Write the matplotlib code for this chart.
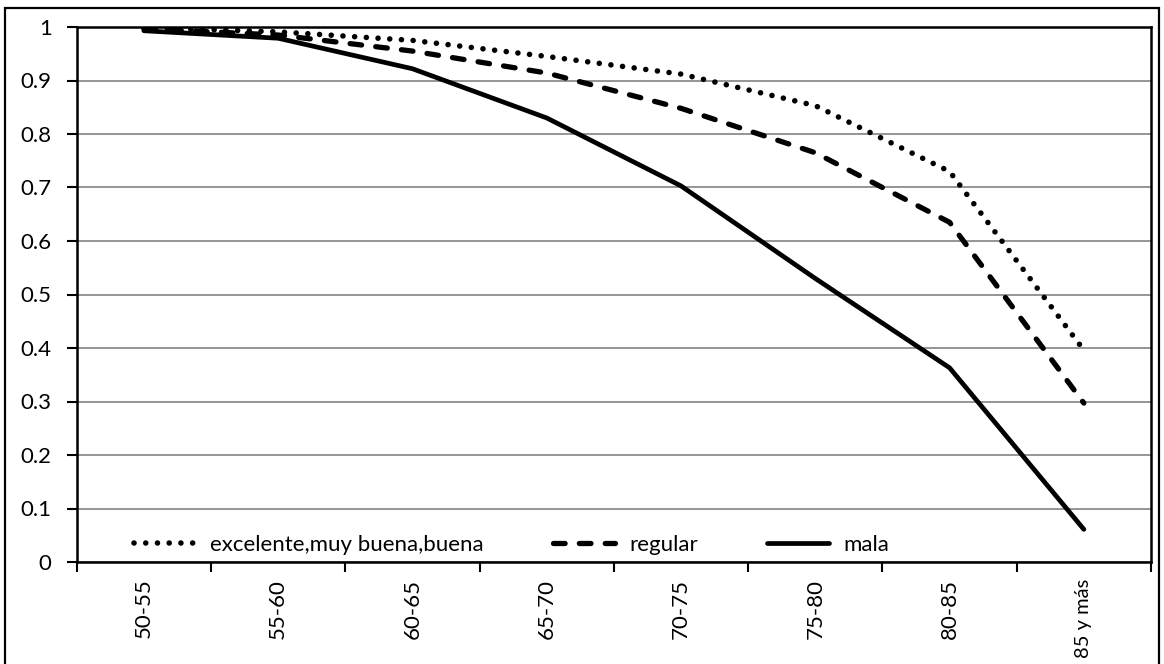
import matplotlib
matplotlib.use("Agg")
import matplotlib.pyplot as plt
from matplotlib.patches import Rectangle
import numpy as np

plt.rcParams['font.family'] = ['Lato', 'DejaVu Sans']

edades = ["50-55", "55-60", "60-65", "65-70", "70-75", "75-80", "80-85", "85 y más"]
buena = [0.999, 0.991, 0.975, 0.945, 0.912, 0.853, 0.730, 0.396]
regular = [0.997, 0.985, 0.955, 0.914, 0.848, 0.765, 0.635, 0.297]
mala = [0.993, 0.979, 0.922, 0.830, 0.703, 0.530, 0.363, 0.061]

fig = plt.figure(figsize=(11.64, 6.64), dpi=100)
ax = fig.add_axes([76.7/1164, 1-562/664, (1151-76.7)/1164, (562-27)/664])

x = np.arange(len(edades))
punteado = (0, (0.01, 2.1))
guiones = (0, (2.2, 2.7))
ax.plot(x, buena, color='black', lw=4.0, linestyle=punteado, dash_capstyle='round',
        label='excelente,muy buena,buena')
ax.plot(x, regular, color='black', lw=3.8, linestyle=guiones, dash_capstyle='round',
        label='regular')
ax.plot(x, mala, color='black', lw=3.4, solid_capstyle='round', label='mala')

ax.set_xlim(-0.5, len(edades) - 0.5)
ax.set_ylim(0, 1)
ax.set_yticks(np.arange(0, 1.01, 0.1))
ax.set_yticklabels(['0', '0.1', '0.2', '0.3', '0.4', '0.5', '0.6', '0.7', '0.8', '0.9', '1'])
ax.yaxis.grid(True, color='#8c8c8c', lw=1.3)
ax.set_axisbelow(True)

ax.set_xticks(x)
ax.set_xticklabels(edades, rotation=90, va='top', ha='center')
ax.set_xticks(np.arange(-0.5, len(edades)), minor=True)
ax.tick_params(axis='x', which='major', length=0, pad=12, labelsize=16)
ax.tick_params(axis='x', which='minor', length=7, width=1.5, direction='out')
ax.tick_params(axis='y', length=7, width=1.5, direction='out', pad=11, labelsize=16)
# la última etiqueta es más larga; se reduce un poco para que quepa
ax.get_xticklabels()[-1].set_fontsize(14.5)
for s in ax.spines.values():
    s.set_linewidth(1.8)
    s.set_color('black')

leg = ax.legend(loc='lower left', bbox_to_anchor=(0.053, 0.013), ncol=3, frameon=False,
                fontsize=16, handlelength=2.8, handletextpad=0.65, columnspacing=3.1,
                borderpad=0, borderaxespad=0)

# marco exterior
fig.patches.append(Rectangle((5/1164, -0.1), (1159-5)/1164, 1.1 - 8/664,
                             transform=fig.transFigure, fill=False, edgecolor='black',
                             lw=1.6, clip_on=False))

fig.savefig("out.png", dpi=100)
